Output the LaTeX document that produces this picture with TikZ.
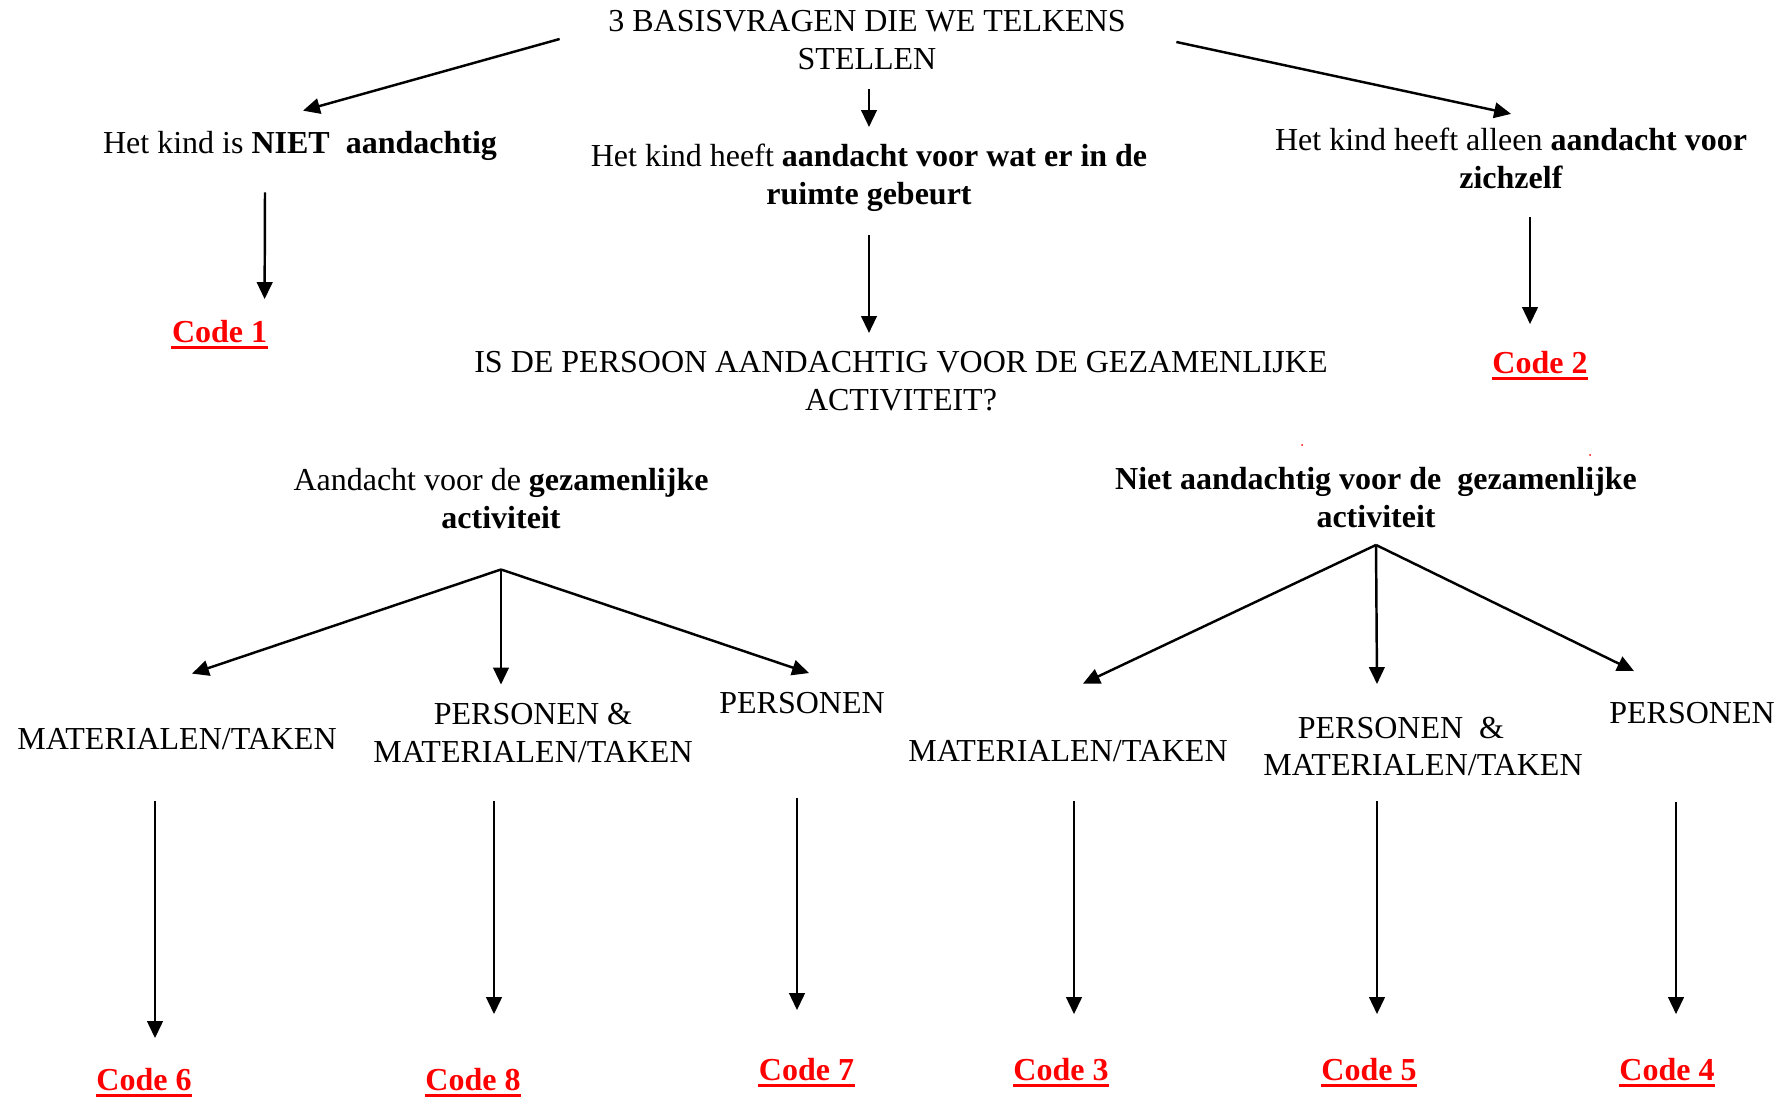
\documentclass[tikz,border=0pt]{standalone}
\usepackage{fontspec}
\setmainfont{Liberation Serif}
\usetikzlibrary{arrows.meta,positioning}

\tikzset{
  txt/.style={inner sep=0pt, align=center, font=\fontsize{9.1}{10.8}\selectfont},
  code/.style={inner sep=0pt, anchor=base, text=red, font=\fontsize{9.1}{10.8}\selectfont\bfseries},
  arr/.style={-{Triangle[length=4.8pt,width=4.4pt]}, line width=0.7pt},
}

\begin{document}
\begin{tikzpicture}[x=0.01cm, y=0.01cm]
\useasboundingbox (0,0) rectangle (1792,-1097);

\node[txt] (title) at (867,-40) {3 BASISVRAGEN DIE WE TELKENS\\STELLEN};
\node[txt] (niet) at (300,-146) {Het kind is \textbf{NIET}\ \ \textbf{aandachtig}};
\node[txt] (mid) at (869,-177.5) {Het kind heeft \textbf{aandacht voor wat er in de}\\\textbf{ruimte gebeurt}};
\node[txt] (zelf) at (1511,-158) {Het kind heeft alleen \textbf{aandacht voor}\\\textbf{zichzelf}};
\node[txt] (vraag) at (901,-381.5) {IS DE PERSOON AANDACHTIG VOOR DE GEZAMENLIJKE\\ACTIVITEIT?};

\node[txt] (aand) at (501,-498.5) {Aandacht voor de \textbf{gezamenlijke}\\\textbf{activiteit}};
\node[txt] (nietg) at (1376,-498) {\textbf{Niet aandachtig voor de\ \ gezamenlijke}\\\textbf{activiteit}};
\coordinate[below=0.40cm of aand] (lsplit);
\coordinate[below=0.16cm of nietg] (rsplit);

\node[txt] (matl) at (177,-739) {MATERIALEN/TAKEN};
\node[txt] (pml) at (533,-733) {PERSONEN \&\\MATERIALEN/TAKEN};
\node[txt] (perl) at (802,-703.5) {PERSONEN};
\node[txt] (matr) at (1068,-751) {MATERIALEN/TAKEN};
\node[txt] (pmr) at (1423,-746.5) {PERSONEN\ \ \&\hspace*{0.44cm}\\MATERIALEN/TAKEN};
\node[txt] (perr) at (1692,-713.5) {PERSONEN};

\foreach \n/\x/\y in {1/219.6/-342, 2/1540/-373, 6/144/-1090, 8/473/-1090,
                      7/806.5/-1080, 3/1061/-1080, 5/1369/-1080, 4/1667/-1080}{
  \node[code] (code\n) at (\x,\y) {Code \n};
  \draw[red, line width=0.8pt] ([yshift=-1.6pt]code\n.base west) -- ([yshift=-1.6pt]code\n.base east);
}

\draw[arr] ([shift={(-48,1)}]title.west) -- ([shift={(3,20)}]niet.north);
\draw[arr] ([shift={(2,-19)}]title.south) -- ([shift={(0,16)}]mid.north);
\draw[arr] ([shift={(50,-2)}]title.east) -- ([shift={(0,13)}]zelf.north);

\draw[arr] ([shift={(-35,-31)}]niet.south) -- ([shift={(45,20)}]code1.north);
\draw[arr] ([shift={(0,-23)}]mid.south) -- ([shift={(-32,18)}]vraag.north);
\draw[arr] ([shift={(19,-28)}]zelf.south) -- ([shift={(-10,26)}]code2.north);

\draw[arr] (lsplit) -- ([shift={(15,54)}]matl.north);
\draw[arr] (lsplit) -- ([shift={(-32,18)}]pml.north);
\draw[arr] (lsplit) -- ([shift={(7,19)}]perl.north);
\draw[arr] (rsplit) -- ([shift={(15,56)}]matr.north);
\draw[arr] (rsplit) -- ([shift={(-46,32)}]pmr.north);
\draw[arr] (rsplit) -- ([shift={(-58,31)}]perr.north);

\draw[arr] ([shift={(-22,-51)}]matl.south) -- ([shift={(11,29)}]code6.north);
\draw[arr] ([shift={(-39,-37)}]pml.south) -- ([shift={(21,53)}]code8.north);
\draw[arr] ([shift={(-5,-83)}]perl.south) -- ([shift={(-9.5,47)}]code7.north);
\draw[arr] ([shift={(6,-39)}]matr.south) -- ([shift={(13,43)}]code3.north);
\draw[arr] ([shift={(-46,-24)}]pmr.south) -- ([shift={(8,43)}]code5.north);
\draw[arr] ([shift={(-16,-77)}]perr.south) -- ([shift={(9,43)}]code4.north);

\fill[red] (1302,-445) circle (1);
\fill[red] (1590,-455) circle (1);
\end{tikzpicture}
\end{document}
